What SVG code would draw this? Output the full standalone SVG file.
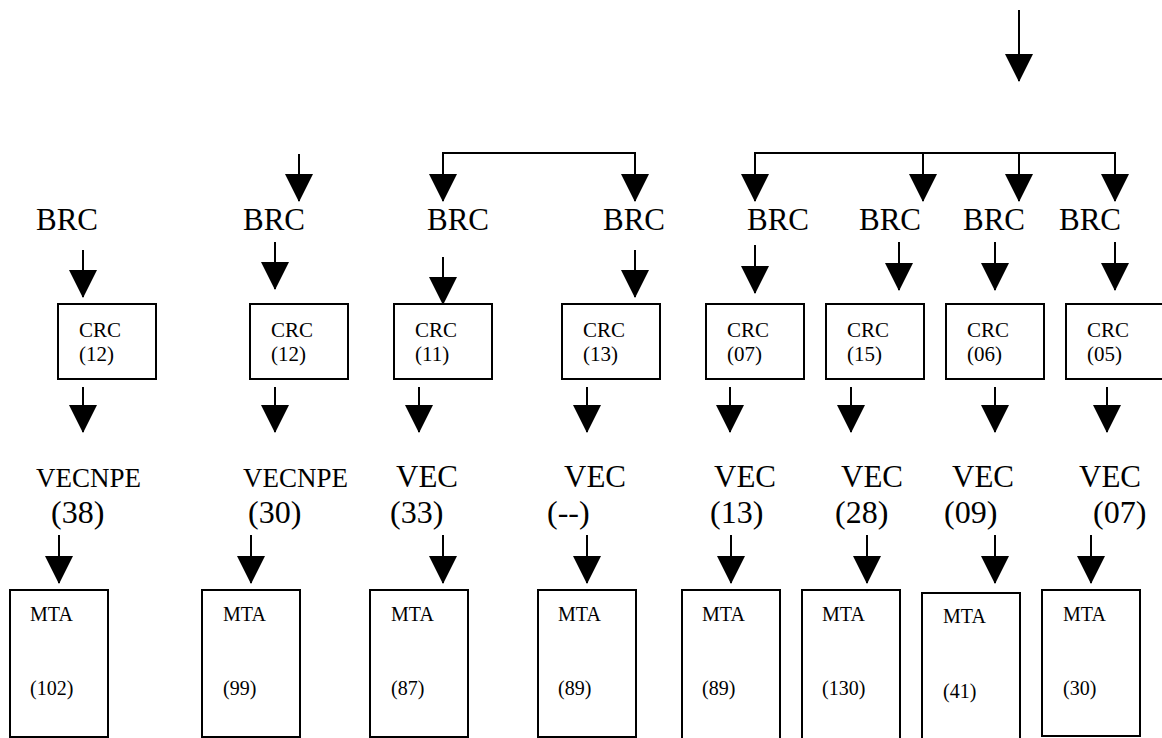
<svg xmlns="http://www.w3.org/2000/svg" width="1162" height="738" viewBox="0 0 1162 738" font-family="'Liberation Serif', 'DejaVu Serif', serif">
<style>
text{font-family:'Liberation Serif','DejaVu Serif',serif;fill:#000}
.brc{font-size:31px}
.vec{font-size:31px}
.vnp{font-size:27px}
.num{font-size:32px}
.crc{font-size:21px}
.mta{font-size:20px}
.box{fill:#fff;stroke:#000;stroke-width:2}
.ln{stroke:#000;stroke-width:2;fill:none}
.ar{stroke:#000;stroke-width:2;fill:none;marker-end:url(#ah)}
</style>
<defs>
<marker id="ah" markerUnits="userSpaceOnUse" markerWidth="28" markerHeight="28" refX="27" refY="14" orient="auto" viewBox="0 0 28 28">
<path d="M0,0 L28,14 L0,28 Z" fill="#000"/>
</marker>
</defs>
<g id="connectors">
<line class="ar" x1="1019" y1="10" x2="1019" y2="81"/>
<line class="ln" x1="755" y1="153" x2="1115" y2="153"/>
<line class="ar" x1="755" y1="152" x2="755" y2="201"/>
<line class="ar" x1="923" y1="153" x2="923" y2="201"/>
<line class="ar" x1="1019" y1="153" x2="1019" y2="201"/>
<line class="ar" x1="1115" y1="152" x2="1115" y2="201"/>
<line class="ln" x1="443" y1="153" x2="635" y2="153"/>
<line class="ar" x1="443" y1="152" x2="443" y2="201"/>
<line class="ar" x1="635" y1="152" x2="635" y2="201"/>
<line class="ar" x1="299" y1="154" x2="299" y2="201"/>
<line class="ar" x1="83" y1="250" x2="83" y2="297"/>
<line class="ar" x1="275" y1="242" x2="275" y2="289"/>
<line class="ar" x1="443" y1="257" x2="443" y2="304"/>
<line class="ar" x1="635" y1="250" x2="635" y2="297"/>
<line class="ar" x1="755" y1="245" x2="755" y2="293"/>
<line class="ar" x1="899" y1="242" x2="899" y2="290"/>
<line class="ar" x1="995" y1="242" x2="995" y2="290"/>
<line class="ar" x1="1115" y1="242" x2="1115" y2="290"/>
<line class="ar" x1="83" y1="387" x2="83" y2="432"/>
<line class="ar" x1="275" y1="387" x2="275" y2="432"/>
<line class="ar" x1="419" y1="387" x2="419" y2="432"/>
<line class="ar" x1="587" y1="387" x2="587" y2="432"/>
<line class="ar" x1="730" y1="387" x2="730" y2="432"/>
<line class="ar" x1="851" y1="387" x2="851" y2="432"/>
<line class="ar" x1="995" y1="387" x2="995" y2="432"/>
<line class="ar" x1="1107" y1="387" x2="1107" y2="432"/>
<line class="ar" x1="59" y1="535" x2="59" y2="583"/>
<line class="ar" x1="251" y1="535" x2="251" y2="583"/>
<line class="ar" x1="443" y1="535" x2="443" y2="583"/>
<line class="ar" x1="587" y1="535" x2="587" y2="583"/>
<line class="ar" x1="731" y1="535" x2="731" y2="583"/>
<line class="ar" x1="867" y1="535" x2="867" y2="583"/>
<line class="ar" x1="995" y1="535" x2="995" y2="583"/>
<line class="ar" x1="1091" y1="535" x2="1091" y2="583"/>
</g>
<g id="brc-labels">
<text class="brc" x="36" y="230">BRC</text>
<text class="brc" x="243" y="230">BRC</text>
<text class="brc" x="427" y="230">BRC</text>
<text class="brc" x="603" y="230">BRC</text>
<text class="brc" x="747" y="230">BRC</text>
<text class="brc" x="859" y="230">BRC</text>
<text class="brc" x="963" y="230">BRC</text>
<text class="brc" x="1059" y="230">BRC</text>
</g>
<g id="crc12a"><rect class="box" x="58" y="304" width="98" height="75"/><text class="crc" x="79" y="337">CRC</text><text class="crc" x="79" y="361">(12)</text></g>
<g id="crc12b"><rect class="box" x="250" y="304" width="98" height="75"/><text class="crc" x="271" y="337">CRC</text><text class="crc" x="271" y="361">(12)</text></g>
<g id="crc11"><rect class="box" x="394" y="304" width="98" height="75"/><text class="crc" x="415" y="337">CRC</text><text class="crc" x="415" y="361">(11)</text></g>
<g id="crc13"><rect class="box" x="562" y="304" width="98" height="75"/><text class="crc" x="583" y="337">CRC</text><text class="crc" x="583" y="361">(13)</text></g>
<g id="crc07"><rect class="box" x="706" y="304" width="98" height="75"/><text class="crc" x="727" y="337">CRC</text><text class="crc" x="727" y="361">(07)</text></g>
<g id="crc15"><rect class="box" x="826" y="304" width="98" height="75"/><text class="crc" x="847" y="337">CRC</text><text class="crc" x="847" y="361">(15)</text></g>
<g id="crc06"><rect class="box" x="946" y="304" width="98" height="75"/><text class="crc" x="967" y="337">CRC</text><text class="crc" x="967" y="361">(06)</text></g>
<g id="crc05"><rect class="box" x="1066" y="304" width="98" height="75"/><text class="crc" x="1087" y="337">CRC</text><text class="crc" x="1087" y="361">(05)</text></g>
<g id="vec-labels">
<text class="vnp" x="36" y="487">VECNPE</text><text class="num" x="51" y="523">(38)</text>
<text class="vnp" x="243" y="487">VECNPE</text><text class="num" x="248" y="523">(30)</text>
<text class="vec" x="396" y="487">VEC</text><text class="num" x="390" y="523">(33)</text>
<text class="vec" x="564" y="487">VEC</text><text class="num" x="547" y="523">(--)</text>
<text class="vec" x="714" y="487">VEC</text><text class="num" x="710" y="523">(13)</text>
<text class="vec" x="841" y="487">VEC</text><text class="num" x="835" y="523">(28)</text>
<text class="vec" x="952" y="487">VEC</text><text class="num" x="944" y="523">(09)</text>
<text class="vec" x="1079" y="487">VEC</text><text class="num" x="1093" y="523">(07)</text>
</g>
<g id="mta102"><rect class="box" x="10" y="590" width="98" height="147"/><text class="mta" x="30" y="621">MTA</text><text class="mta" x="30" y="695">(102)</text></g>
<g id="mta99"><rect class="box" x="202" y="590" width="98" height="147"/><text class="mta" x="223" y="621">MTA</text><text class="mta" x="223" y="695">(99)</text></g>
<g id="mta87"><rect class="box" x="370" y="590" width="98" height="147"/><text class="mta" x="391" y="621">MTA</text><text class="mta" x="391" y="695">(87)</text></g>
<g id="mta89a"><rect class="box" x="538" y="590" width="98" height="147"/><text class="mta" x="558" y="621">MTA</text><text class="mta" x="558" y="695">(89)</text></g>
<g id="mta89b"><rect class="box" x="682" y="590" width="98" height="160"/><text class="mta" x="702" y="621">MTA</text><text class="mta" x="702" y="695">(89)</text></g>
<g id="mta130"><rect class="box" x="802" y="590" width="98" height="160"/><text class="mta" x="822" y="621">MTA</text><text class="mta" x="822" y="695">(130)</text></g>
<g id="mta41"><rect class="box" x="922" y="593" width="98" height="160"/><text class="mta" x="943" y="623">MTA</text><text class="mta" x="943" y="698">(41)</text></g>
<g id="mta30"><rect class="box" x="1042" y="590" width="98" height="146"/><text class="mta" x="1063" y="621">MTA</text><text class="mta" x="1063" y="695">(30)</text></g>
</svg>
